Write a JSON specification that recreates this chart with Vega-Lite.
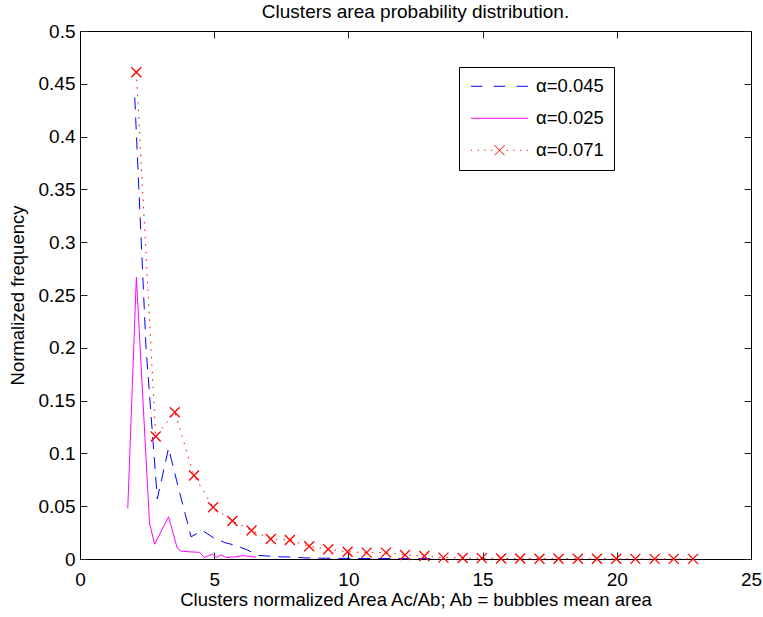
{
  "$schema": "https://vega.github.io/schema/vega-lite/v6.json",
  "width": 671,
  "height": 528,
  "autosize": {"type": "none"},
  "padding": {"left": 80, "top": 31, "right": 12, "bottom": 58},
  "background": "white",
  "title": {"text": "Clusters area probability distribution.", "font": "Liberation Sans", "fontSize": 19, "fontWeight": "normal", "color": "black", "offset": 0},
  "config": {
    "view": {"stroke": "black", "strokeWidth": 1},
    "axis": {"grid": false, "labelFlush": false, "domainColor": "black", "tickColor": "#222", "labelColor": "black", "titleColor": "black", "labelFont": "Liberation Sans", "titleFont": "Liberation Sans", "labelFontSize": 19, "titleFontSize": 18.5, "titleFontWeight": "normal", "tickSize": -7}
  },
  "data": {"values": [
    {"series": "α=0.045", "x": 2.04, "y": 0.437},
    {"series": "α=0.045", "x": 2.46, "y": 0.2},
    {"series": "α=0.045", "x": 2.88, "y": 0.057},
    {"series": "α=0.045", "x": 3.30, "y": 0.105},
    {"series": "α=0.045", "x": 3.72, "y": 0.062},
    {"series": "α=0.045", "x": 4.14, "y": 0.021},
    {"series": "α=0.045", "x": 4.56, "y": 0.027},
    {"series": "α=0.045", "x": 4.98, "y": 0.02},
    {"series": "α=0.045", "x": 5.40, "y": 0.0155},
    {"series": "α=0.045", "x": 5.82, "y": 0.0127},
    {"series": "α=0.045", "x": 6.24, "y": 0.0085},
    {"series": "α=0.045", "x": 6.66, "y": 0.0033},
    {"series": "α=0.045", "x": 7.08, "y": 0.0027},
    {"series": "α=0.045", "x": 7.50, "y": 0.002},
    {"series": "α=0.045", "x": 7.92, "y": 0.0019},
    {"series": "α=0.045", "x": 8.34, "y": 0.0011},
    {"series": "α=0.045", "x": 8.76, "y": 0.0008},
    {"series": "α=0.045", "x": 9.18, "y": 0.0007},
    {"series": "α=0.045", "x": 9.60, "y": 0.0006},
    {"series": "α=0.045", "x": 10.02, "y": 0.0006},
    {"series": "α=0.045", "x": 10.44, "y": 0.0005},
    {"series": "α=0.045", "x": 10.86, "y": 0.0005},
    {"series": "α=0.045", "x": 11.28, "y": 0.0005},
    {"series": "α=0.045", "x": 11.70, "y": 0.0004},
    {"series": "α=0.045", "x": 12.12, "y": 0.0004},
    {"series": "α=0.045", "x": 12.54, "y": 0.0004},
    {"series": "α=0.045", "x": 12.96, "y": 0.0003},
    {"series": "α=0.045", "x": 13.38, "y": 0.0003},
    {"series": "α=0.025", "x": 1.78, "y": 0.048},
    {"series": "α=0.025", "x": 2.10, "y": 0.267},
    {"series": "α=0.025", "x": 2.59, "y": 0.034},
    {"series": "α=0.025", "x": 2.78, "y": 0.014},
    {"series": "α=0.025", "x": 3.30, "y": 0.040},
    {"series": "α=0.025", "x": 3.62, "y": 0.0105},
    {"series": "α=0.025", "x": 3.75, "y": 0.0075},
    {"series": "α=0.025", "x": 4.10, "y": 0.0068},
    {"series": "α=0.025", "x": 4.45, "y": 0.0063},
    {"series": "α=0.025", "x": 4.64, "y": 0.0015},
    {"series": "α=0.025", "x": 4.93, "y": 0.0047},
    {"series": "α=0.025", "x": 5.07, "y": 0.0015},
    {"series": "α=0.025", "x": 5.26, "y": 0.0038},
    {"series": "α=0.025", "x": 5.45, "y": 0.0015},
    {"series": "α=0.025", "x": 5.70, "y": 0.0018},
    {"series": "α=0.025", "x": 6.07, "y": 0.0032},
    {"series": "α=0.025", "x": 6.56, "y": 0.0018},
    {"series": "α=0.071", "x": 2.10, "y": 0.461},
    {"series": "α=0.071", "x": 2.82, "y": 0.116},
    {"series": "α=0.071", "x": 3.53, "y": 0.139},
    {"series": "α=0.071", "x": 4.25, "y": 0.079},
    {"series": "α=0.071", "x": 4.96, "y": 0.049},
    {"series": "α=0.071", "x": 5.68, "y": 0.036},
    {"series": "α=0.071", "x": 6.39, "y": 0.027},
    {"series": "α=0.071", "x": 7.11, "y": 0.019},
    {"series": "α=0.071", "x": 7.82, "y": 0.018},
    {"series": "α=0.071", "x": 8.54, "y": 0.012},
    {"series": "α=0.071", "x": 9.25, "y": 0.0092},
    {"series": "α=0.071", "x": 9.97, "y": 0.0069},
    {"series": "α=0.071", "x": 10.68, "y": 0.006},
    {"series": "α=0.071", "x": 11.40, "y": 0.006},
    {"series": "α=0.071", "x": 12.11, "y": 0.0038},
    {"series": "α=0.071", "x": 12.83, "y": 0.0028},
    {"series": "α=0.071", "x": 13.54, "y": 0.0013},
    {"series": "α=0.071", "x": 14.26, "y": 0.001},
    {"series": "α=0.071", "x": 14.97, "y": 0.0008},
    {"series": "α=0.071", "x": 15.69, "y": 0.0005},
    {"series": "α=0.071", "x": 16.40, "y": 0.0004},
    {"series": "α=0.071", "x": 17.12, "y": 0.0003},
    {"series": "α=0.071", "x": 17.83, "y": 0.0003},
    {"series": "α=0.071", "x": 18.55, "y": 0.0002},
    {"series": "α=0.071", "x": 19.26, "y": 0.0002},
    {"series": "α=0.071", "x": 19.98, "y": 0.0002},
    {"series": "α=0.071", "x": 20.69, "y": 0.0001},
    {"series": "α=0.071", "x": 21.41, "y": 0.0001},
    {"series": "α=0.071", "x": 22.12, "y": 0.0001},
    {"series": "α=0.071", "x": 22.84, "y": 0.0001}
  ]},
  "layer": [
    {
      "encoding": {
        "x": {"field": "x", "type": "quantitative", "scale": {"domain": [0, 25], "nice": false, "zero": false},
              "axis": {"orient": "bottom", "values": [0, 5, 10, 15, 20, 25], "labelPadding": 18, "titlePadding": 1, "title": "Clusters normalized Area Ac/Ab; Ab = bubbles mean area"}},
        "y": {"field": "y", "type": "quantitative", "scale": {"domain": [0, 0.5], "nice": false},
              "axis": {"orient": "left", "values": [0, 0.05, 0.1, 0.15, 0.2, 0.25, 0.3, 0.35, 0.4, 0.45, 0.5], "format": "~g", "labelPadding": 12, "titlePadding": 11, "title": "Normalized frequency"}},
        "color": {"field": "series", "type": "nominal",
          "scale": {"domain": ["α=0.045", "α=0.025", "α=0.071"], "range": ["#0000ff", "#ff00ff", "#ff0000"]},
          "legend": {
            "title": null, "orient": "none", "legendX": 379, "legendY": 36,
            "strokeColor": "black", "fillColor": "white", "padding": 10,
            "labelFont": "Liberation Sans", "labelFontSize": 18.5, "labelColor": "black",
            "rowPadding": 13, "symbolSize": 100,
            "encode": {
              "symbols": {"update": {
                "shape": {"signal": "datum.value === 'α=0.045' ? 'M-5.7,0H-3.42M-1.14,0H1.14M3.42,0H5.7' : datum.value === 'α=0.025' ? 'M-5.7,0H5.7' : 'M-5.7,0H-5.46M-4.36,0H-4.12M-3.02,0H-2.78M-1.68,0H-1.44M-1,-1L1,1M-1,1L1,-1M1.44,0H1.68M2.78,0H3.02M4.12,0H4.36M5.46,0H5.7'"},
                "size": {"value": 100},
                "x": {"value": 30.5},
                "fill": {"value": "transparent"},
                "strokeWidth": {"value": 1},
                "opacity": {"value": 1}
              }},
              "labels": {"update": {"x": {"value": 67}}}
            }
          }}
      },
      "layer": [
        {"transform": [{"filter": "datum.series === 'α=0.045'"}], "mark": {"type": "line", "strokeWidth": 1, "strokeDash": [12, 8]}},
        {"transform": [{"filter": "datum.series === 'α=0.025'"}], "mark": {"type": "line", "strokeWidth": 1}},
        {"transform": [{"filter": "datum.series === 'α=0.071'"}], "mark": {"type": "line", "strokeWidth": 1, "strokeDash": [1.5, 6]}}
      ]
    },
    {
      "transform": [{"filter": "datum.series === 'α=0.071'"}],
      "mark": {"type": "point", "shape": "M-1,-1L1,1M-1,1L1,-1", "size": 100, "filled": false, "stroke": "#ff0000", "strokeWidth": 1.3, "opacity": 1},
      "encoding": {
        "x": {"field": "x", "type": "quantitative", "axis": {"orient": "top", "values": [0, 5, 10, 15, 20, 25], "labels": false, "title": null}},
        "y": {"field": "y", "type": "quantitative", "axis": {"orient": "right", "values": [0, 0.05, 0.1, 0.15, 0.2, 0.25, 0.3, 0.35, 0.4, 0.45, 0.5], "labels": false, "title": null}}
      }
    }
  ],
  "resolve": {"axis": {"x": "independent", "y": "independent"}}
}
